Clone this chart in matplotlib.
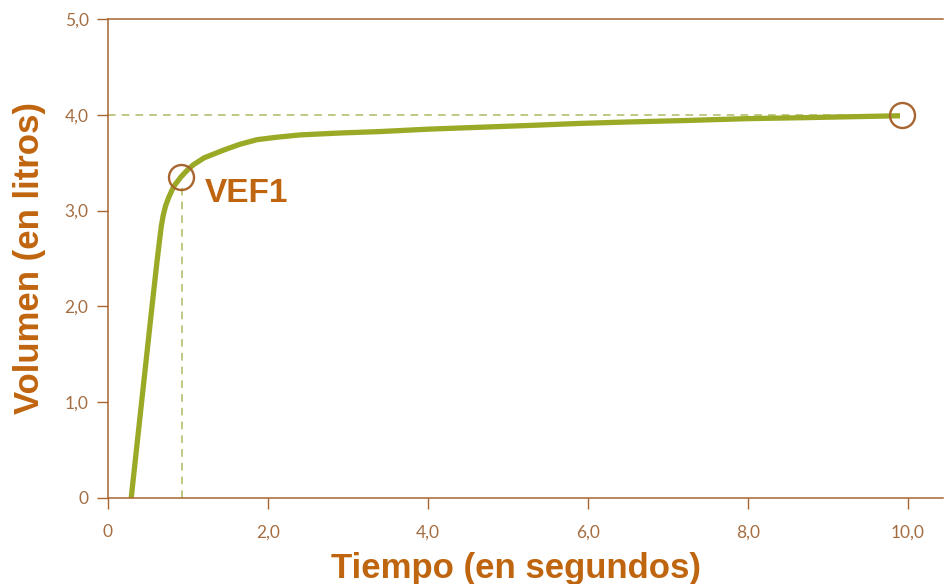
import matplotlib
matplotlib.use("Agg")
import matplotlib.pyplot as plt

# Data
tiempo = [0.29, 0.42, 0.55, 0.61, 0.64, 0.665, 0.69, 0.72, 0.76, 0.82, 0.91, 1.0,
          1.07, 1.2, 1.44, 1.64, 1.86, 2.1, 2.4, 2.9, 3.4, 4.0, 4.65, 5.3, 5.9,
          6.5, 7.2, 8.0, 8.7, 9.3, 9.9]
volumen = [0.0, 1.0, 2.0, 2.45, 2.66, 2.83, 2.95, 3.05, 3.14, 3.25, 3.35, 3.43,
           3.48, 3.55, 3.63, 3.69, 3.74, 3.765, 3.79, 3.81, 3.825, 3.85, 3.87,
           3.89, 3.91, 3.925, 3.94, 3.96, 3.97, 3.98, 3.99]
vef1_t, vef1_v = 0.91, 3.35
fvc_t, fvc_v = 9.93, 4.0
xticks = [0, 2, 4, 6, 8, 10]
xticklabels = ["0", "2,0", "4,0", "6,0", "8,0", "10,0"]
yticks = [0, 1, 2, 3, 4, 5]
yticklabels = ["0", "1,0", "2,0", "3,0", "4,0", "5,0"]

brown = "#A8652F"
tickc = "#A56E42"
labelc = "#C0650F"
green = "#9AAA26"
dashc = "#AEBB63"

fig = plt.figure(figsize=(9.45, 5.84), dpi=100)
ax = fig.add_axes([108/945, 1-498/584, (943-108)/945, (498-19)/584])
ax.set_xlim(0, (943-108)/80)
ax.set_ylim(0, 5)

ax.plot([0, 9.8], [fvc_v, fvc_v], ls=(0, (5, 4)), color=dashc, lw=1.1, zorder=1)
ax.plot([0.93, 0.93], [0, 3.3], ls=(0, (5, 4)), color=dashc, lw=1.1, zorder=1)

ax.plot(tiempo, volumen, color=green, lw=3.8, solid_joinstyle="round",
        solid_capstyle="butt", zorder=2)
ax.plot([vef1_t, fvc_t], [vef1_v, fvc_v], ls="none", marker="o", ms=18,
        mfc="none", mec=brown, mew=1.7, zorder=3)

ax.text(1.21, 3.18, "VEF1", color=labelc, fontsize=24, fontweight="bold",
        family="Liberation Sans", ha="left", va="center")

for s in ["left", "bottom", "top"]:
    ax.spines[s].set_color(brown)
    ax.spines[s].set_linewidth(1.1)
ax.spines["right"].set_visible(False)

ax.set_xticks(xticks)
ax.set_xticklabels(xticklabels)
ax.set_yticks(yticks)
ax.set_yticklabels(yticklabels)
ax.tick_params(axis="both", direction="out", length=8, width=1.0, color=brown,
               labelcolor=tickc, labelsize=12.5)
ax.tick_params(axis="x", pad=11)
ax.tick_params(axis="y", pad=6)
for lbl in ax.get_xticklabels() + ax.get_yticklabels():
    lbl.set_family("Lato")

ax.set_xlabel("Tiempo (en segundos)", color=labelc, fontsize=25,
              fontweight="bold", family="Liberation Sans", labelpad=11)
ax.xaxis.set_label_coords(0.489, -0.0, transform=None)
ax.xaxis.set_label_coords(0.489, -0.112)
ax.set_ylabel("Volumen (en litros)", color=labelc, fontsize=25,
              fontweight="bold", family="Liberation Sans", labelpad=13)

fig.savefig("out.png", dpi=100)
